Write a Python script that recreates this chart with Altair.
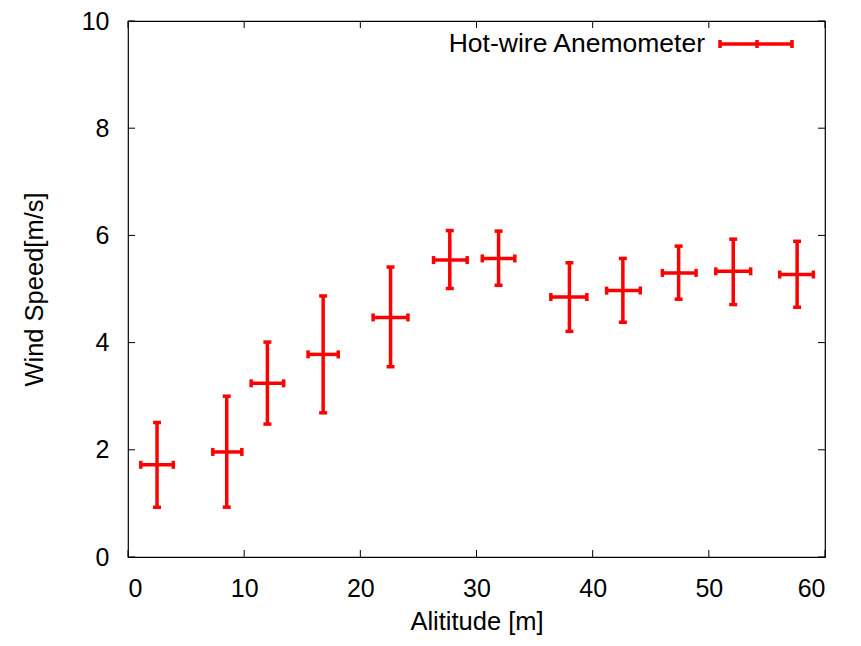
import altair as alt
import pandas as pd

# ---- data ----
altitude = [2.5, 8.5, 12.0, 16.8, 22.6, 27.7, 31.9, 38.0, 42.6, 47.4, 52.1, 57.6]
alt_lo = [1.1, 7.3, 10.6, 15.5, 21.1, 26.3, 30.5, 36.4, 41.2, 46.0, 50.6, 56.1]
alt_hi = [3.9, 9.8, 13.4, 18.1, 24.1, 29.2, 33.3, 39.5, 44.1, 48.9, 53.6, 59.0]
speed = [1.72, 1.96, 3.24, 3.78, 4.47, 5.54, 5.57, 4.85, 4.97, 5.30, 5.33, 5.27]
speed_lo = [0.93, 0.93, 2.48, 2.69, 3.55, 5.01, 5.07, 4.21, 4.38, 4.81, 4.71, 4.66]
speed_hi = [2.51, 3.00, 4.01, 4.87, 5.41, 6.09, 6.08, 5.49, 5.57, 5.80, 5.93, 5.89]
x_ticks = [0, 10, 20, 30, 40, 50, 60]
y_ticks = [0, 2, 4, 6, 8, 10]
series_name = "Hot-wire Anemometer"

W, H = 697, 536
RED = "#ff0000"
FONT = "Liberation Sans"

df = pd.DataFrame(dict(alt=altitude, alt_lo=alt_lo, alt_hi=alt_hi,
                       speed=speed, s_lo=speed_lo, s_hi=speed_hi))
xt = pd.DataFrame(dict(v=x_ticks))
yt = pd.DataFrame(dict(v=y_ticks))

xs = alt.Scale(domain=[0, 60], nice=False, zero=False)
ys = alt.Scale(domain=[0, 10], nice=False, zero=False)
xax = alt.Axis(values=x_ticks, ticks=False, domain=False, grid=False,
               labelFontSize=25, labelPadding=19, titleFontSize=25.5,
               titlePadding=8, titleFontWeight="normal", format="d")
yax = alt.Axis(values=y_ticks, ticks=False, domain=False, grid=False,
               labelFontSize=25, labelPadding=19, titleFontSize=25.5,
               titlePadding=34, titleFontWeight="normal", format="d")
XT = "Alititude [m]"
YT = "Wind Speed[m/s]"

base = alt.Chart(df)
hbar = base.mark_rule(color=RED, strokeWidth=3.5).encode(
    x=alt.X("alt_lo:Q", scale=xs, axis=xax, title=XT), x2="alt_hi:Q",
    y=alt.Y("speed:Q", scale=ys, axis=yax, title=YT))
vbar = base.mark_rule(color=RED, strokeWidth=3.5).encode(
    x=alt.X("alt:Q", scale=xs, axis=xax, title=XT),
    y=alt.Y("s_lo:Q", scale=ys, axis=yax, title=YT), y2="s_hi:Q")

def vcap(field):
    return base.mark_tick(color=RED, orient="vertical", size=8, thickness=3.5, opacity=1).encode(
        x=alt.X(f"{field}:Q", scale=xs, axis=xax, title=XT),
        y=alt.Y("speed:Q", scale=ys, axis=yax, title=YT))

def hcap(field):
    return base.mark_tick(color=RED, orient="horizontal", size=8, thickness=3.5, opacity=1).encode(
        x=alt.X("alt:Q", scale=xs, axis=xax, title=XT),
        y=alt.Y(f"{field}:Q", scale=ys, axis=yax, title=YT))

TL = 7
top_t = alt.Chart(xt).mark_rule(color="black").encode(
    x=alt.X("v:Q", scale=xs, axis=xax, title=XT), y=alt.value(0), y2=alt.value(TL))
bot_t = alt.Chart(xt).mark_rule(color="black").encode(
    x=alt.X("v:Q", scale=xs, axis=xax, title=XT), y=alt.value(H), y2=alt.value(H - TL))
left_t = alt.Chart(yt).mark_rule(color="black").encode(
    y=alt.Y("v:Q", scale=ys, axis=yax, title=YT), x=alt.value(0), x2=alt.value(TL))
right_t = alt.Chart(yt).mark_rule(color="black").encode(
    y=alt.Y("v:Q", scale=ys, axis=yax, title=YT), x=alt.value(W), x2=alt.value(W - TL))

# legend (drawn manually, top right)
leg = pd.DataFrame(dict(name=[series_name]))
leg_text = alt.Chart(leg).mark_text(align="right", baseline="middle", fontSize=26.5,
                                    font=FONT, color="black").encode(
    text="name:N", x=alt.value(577), y=alt.value(23))
leg_line = alt.Chart(leg).mark_rule(color=RED, strokeWidth=3.5).encode(
    x=alt.value(592), x2=alt.value(664), y=alt.value(23))
leg_caps = [alt.Chart(leg).mark_rule(color=RED, strokeWidth=3.5).encode(
    x=alt.value(px), y=alt.value(19), y2=alt.value(27)) for px in (592, 629, 664)]

chart = alt.layer(
    top_t, bot_t, left_t, right_t,
    hbar, vbar, vcap("alt_lo"), vcap("alt_hi"), hcap("s_lo"), hcap("s_hi"),
    leg_text, leg_line, *leg_caps
).properties(
    width=W, height=H,
    autosize=alt.AutoSizeParams(type="none"),
    padding={"left": 120, "top": 13, "right": 28, "bottom": 81},
    background="white",
).configure_view(stroke="black", strokeWidth=1.2).configure_axis(
    labelFont=FONT, titleFont=FONT, labelColor="black", titleColor="black"
)

chart.save("out.html", embed_options={"renderer": "svg", "actions": False})
